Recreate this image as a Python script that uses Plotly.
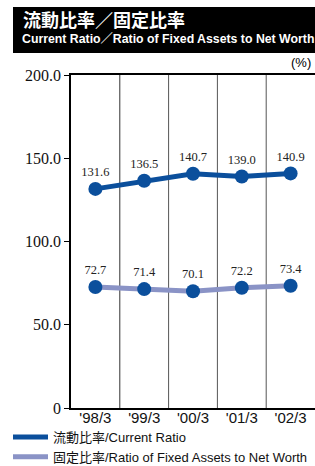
import plotly.graph_objects as go

categories = ["'98/3", "'99/3", "'00/3", "'01/3", "'02/3"]
current_ratio = [131.6, 136.5, 140.7, 139.0, 140.9]
fixed_ratio = [72.7, 71.4, 70.1, 72.2, 73.4]
y_tickvals = [0, 50, 100, 150, 200]
y_ticktext = ["0", "50.0", "100.0", "150.0", "200.0"]
series_names = ["流動比率/Current Ratio", "固定比率/Ratio of Fixed Assets to Net Worth"]

W, H = 315, 466
L, R, T, B = 71, 0, 75, 58
pw, ph = W - L - R, H - T - B

def px(x):
    return (x - L) / pw

def py(y):
    return (H - B - y) / ph

dark = "#0b4f9c"
light = "#8a93c6"
xs = list(range(len(categories)))

fig = go.Figure()
for vals, col, name in [(current_ratio, dark, series_names[0]), (fixed_ratio, light, series_names[1])]:
    fig.add_trace(go.Scatter(x=xs, y=vals, mode="lines", line=dict(color=col, width=5),
                             name=name, showlegend=True, hoverinfo="skip"))
for vals in [current_ratio, fixed_ratio]:
    fig.add_trace(go.Scatter(x=xs, y=vals, mode="markers+text", marker=dict(color=dark, size=14),
                             text=[f"{v:.1f}" for v in vals], textposition="top center",
                             textfont=dict(family="Liberation Serif", size=12.5, color="#222"),
                             showlegend=False))

# category separators
for i in range(len(categories) - 1):
    fig.add_shape(type="line", xref="x", yref="paper", x0=i + 0.5, x1=i + 0.5, y0=0, y1=1,
                  line=dict(color="#333" if i == 0 else "#555", width=1), layer="below")

# title box
fig.add_shape(type="rect", xref="paper", yref="paper", x0=px(13), x1=px(318), y0=py(7), y1=py(53),
              fillcolor="black", line=dict(width=0))
fig.add_annotation(xref="paper", yref="paper", x=px(21), y=py(19), xanchor="left", yanchor="middle",
                   text="<b>流動比率／固定比率</b>", showarrow=False,
                   font=dict(family="Noto Sans CJK JP", size=18, color="white"))
fig.add_annotation(xref="paper", yref="paper", x=px(20), y=py(39), xanchor="left", yanchor="middle",
                   text="<b>Current Ratio／Ratio of Fixed Assets to Net Worth</b>", showarrow=False,
                   font=dict(family="Liberation Sans, Noto Sans CJK JP", size=12.3, color="white"))
fig.add_annotation(xref="paper", yref="paper", x=px(313), y=py(62), xanchor="right", yanchor="middle",
                   text="(%)", showarrow=False,
                   font=dict(family="Liberation Sans", size=13, color="black"))

fig.update_layout(
    width=W, height=H,
    margin=dict(l=L, r=R, t=T, b=B, pad=0, autoexpand=False),
    paper_bgcolor="white", plot_bgcolor="white",
    xaxis=dict(range=[-0.5, len(categories) - 0.5], tickvals=xs, ticktext=categories,
               showgrid=False, zeroline=False, showline=True, linecolor="black", linewidth=1.5,
               mirror=True, ticks="", fixedrange=True, ticklabelstandoff=-5,
               tickfont=dict(family="Liberation Sans", size=15, color="#111")),
    yaxis=dict(range=[0, 200], tickvals=y_tickvals, ticktext=y_ticktext,
               showgrid=False, zeroline=False, showline=True, linecolor="black", linewidth=1.5,
               ticks="outside", ticklen=5, tickcolor="black", fixedrange=True,
               tickfont=dict(family="Liberation Serif", size=16, color="#111")),
    legend=dict(x=px(8), y=py(422), xanchor="left", yanchor="top", orientation="v",
                font=dict(family="Liberation Sans, Noto Sans CJK JP", size=13, color="#111"),
                bgcolor="rgba(0,0,0,0)", tracegroupgap=0, itemwidth=35),
    showlegend=True,
)

fig.write_html("out.html", config={"displayModeBar": False},
               post_script="document.body.style.margin='0';")
